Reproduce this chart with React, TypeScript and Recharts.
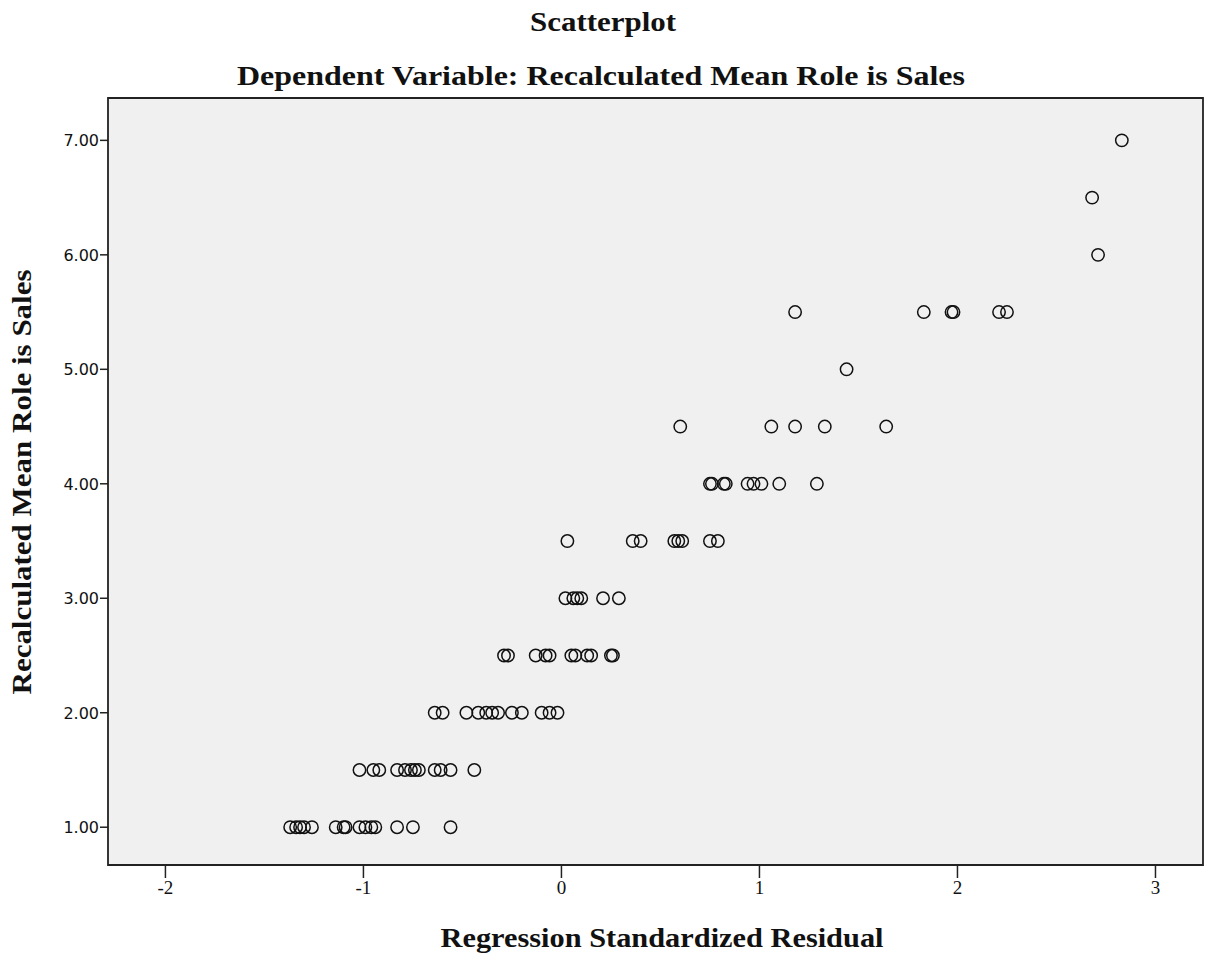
import React from "react";
import { ScatterChart, Scatter, XAxis, YAxis, ReferenceArea } from "recharts";

const xTicks = [-2, -1, 0, 1, 2, 3];
const yTicks = [1, 2, 3, 4, 5, 6, 7];

const role10 = [-1.37, -1.34, -1.32, -1.3, -1.26, -1.14, -1.1, -1.09, -1.02, -0.99, -0.96, -0.94, -0.83, -0.75, -0.56];
const role15 = [-1.02, -0.95, -0.92, -0.83, -0.79, -0.76, -0.74, -0.72, -0.64, -0.61, -0.56, -0.44];
const role20 = [-0.64, -0.6, -0.48, -0.42, -0.38, -0.35, -0.32, -0.25, -0.2, -0.1, -0.06, -0.02];
const role25 = [-0.29, -0.27, -0.13, -0.08, -0.06, 0.05, 0.07, 0.13, 0.15, 0.25, 0.26];
const role30 = [0.02, 0.06, 0.08, 0.1, 0.21, 0.29];
const role35 = [0.03, 0.36, 0.4, 0.57, 0.59, 0.61, 0.75, 0.79];
const role40 = [0.75, 0.76, 0.82, 0.83, 0.94, 0.97, 1.01, 1.1, 1.29];
const role45 = [0.6, 1.06, 1.18, 1.33, 1.64];
const role50 = [1.44];
const role55 = [1.18, 1.83, 1.97, 1.98, 2.21, 2.25];
const role60 = [2.71];
const role65 = [2.68];
const role70 = [2.83];

const groups: [number, number[]][] = [
  [1, role10], [1.5, role15], [2, role20], [2.5, role25], [3, role30], [3.5, role35],
  [4, role40], [4.5, role45], [5, role50], [5.5, role55], [6, role60], [6.5, role65], [7, role70],
];

const data = groups.flatMap(([y, xs]) => xs.map((x) => ({ x, y })));

const X_MIN = -2.29, X_MAX = 3.24, Y_MIN = 0.67, Y_MAX = 7.37;

const Ring = (props: any) => {
  const { cx, cy } = props;
  if (cx == null || cy == null) return null;
  return <circle cx={cx} cy={cy} r={6.2} fill="none" stroke="#111" strokeWidth={1.5} />;
};

const serif = "'Liberation Serif', 'Times New Roman', serif";

const XTick = (props: any) => {
  const { x, y, payload } = props;
  return (
    <text x={x} y={y + 14} textAnchor="middle" fontFamily={serif} fontSize={19} fill="#111">
      {String(payload.value)}
    </text>
  );
};

const YTick = (props: any) => {
  const { x, y, payload } = props;
  return (
    <text x={x} y={y + 6} textAnchor="end" fontFamily="'DejaVu Sans', sans-serif" fontSize={16} fill="#111">
      {Number(payload.value).toFixed(2)}
    </text>
  );
};

export default function App() {
  const W = 1208, H = 947;
  return (
    <div style={{ position: "relative", width: W, height: H }}>
      <ScatterChart width={W} height={H} margin={{ top: 90, right: 13, left: 0, bottom: 0 }}>
        <XAxis
          type="number"
          dataKey="x"
          domain={[X_MIN, X_MAX]}
          ticks={xTicks}
          allowDataOverflow
          height={90}
          axisLine={false}
          tickSize={13}
          tickMargin={2}
          tickLine={{ stroke: "#222", strokeWidth: 1.5 }}
          tick={<XTick />}
          interval={0}
        />
        <YAxis
          type="number"
          dataKey="y"
          domain={[Y_MIN, Y_MAX]}
          ticks={yTicks}
          allowDataOverflow
          width={100}
          axisLine={false}
          tickSize={8}
          tickMargin={1}
          tickLine={{ stroke: "#222", strokeWidth: 1.5 }}
          tick={<YTick />}
          interval={0}
        />
        <ReferenceArea
          x1={X_MIN}
          x2={X_MAX}
          y1={Y_MIN}
          y2={Y_MAX}
          fill="#f0f0f0"
          fillOpacity={1}
          stroke="#222"
          strokeWidth={1.8}
          ifOverflow="visible"
        />
        <Scatter data={data} shape={<Ring />} isAnimationActive={false} />
      </ScatterChart>
      <svg
        width={W}
        height={H}
        style={{ position: "absolute", left: 0, top: 0, pointerEvents: "none" }}
      >
        <text x={595} y={23} textAnchor="middle" fontFamily={serif} fontWeight="bold" fontSize={27} fill="#111" textLength={146} lengthAdjust="spacingAndGlyphs">
          Scatterplot
        </text>
        <text x={593} y={77} textAnchor="middle" fontFamily={serif} fontWeight="bold" fontSize={27} fill="#111" textLength={728} lengthAdjust="spacingAndGlyphs">
          Dependent Variable: Recalculated Mean Role is Sales
        </text>
        <text x={654} y={939} textAnchor="middle" fontFamily={serif} fontWeight="bold" fontSize={27} fill="#111" textLength={443} lengthAdjust="spacingAndGlyphs">
          Regression Standardized Residual
        </text>
        <text
          x={0}
          y={0}
          transform="translate(23,474) rotate(-90)"
          textAnchor="middle"
          fontFamily={serif}
          fontWeight="bold"
          fontSize={27}
          fill="#111"
          textLength={425}
          lengthAdjust="spacingAndGlyphs"
        >
          Recalculated Mean Role is Sales
        </text>
      </svg>
    </div>
  );
}
